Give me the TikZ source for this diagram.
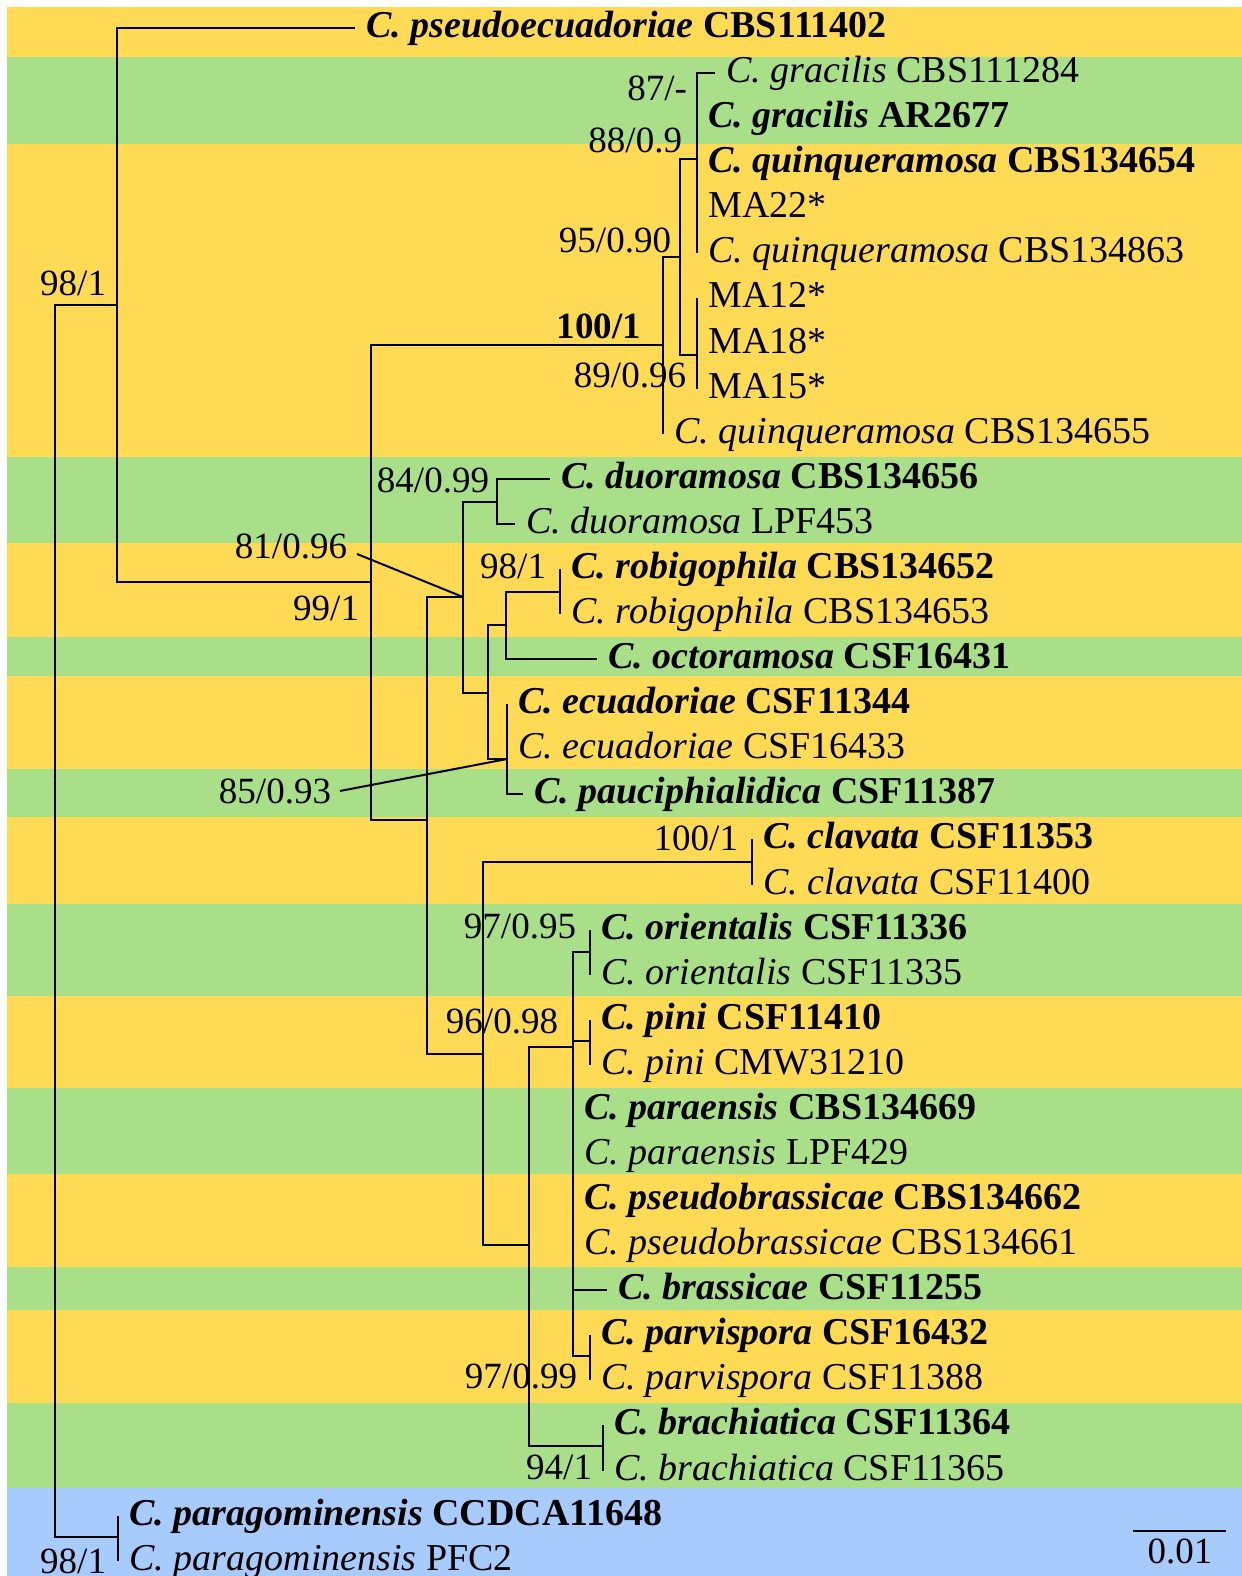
\documentclass[tikz,border=0pt]{standalone}
\usepackage{fontspec}
\setmainfont{Liberation Serif}

\definecolor{bandyellow}{RGB}{255,218,85}
\definecolor{bandgreen}{RGB}{169,223,137}
\definecolor{bandblue}{RGB}{168,203,254}

% isolate names: plain and type strain (bold)
\newcommand{\isol}[2]{\textit{#1} #2}
\newcommand{\typestr}[2]{\textbf{\textit{#1} #2}}

\begin{document}
\begin{tikzpicture}[x=0.5pt,y=-0.5pt,line width=1pt,
  font=\fontsize{18.5}{20}\selectfont,
  leaf/.style={anchor=base west,inner sep=0pt,xshift=5.25pt,yshift=-4.75pt,
    font=\fontsize{19}{21}\selectfont},
  supp/.style={anchor=base east,inner sep=0pt}]

\useasboundingbox (0,0) rectangle (1242,1576);

 % bandes de couleur derriere les clades
 \foreach \ya/\yb/\col in {7/57/bandyellow, 57/144/bandgreen, 144/457/bandyellow,
   457/543/bandgreen, 543/637/bandyellow, 637/676/bandgreen, 676/769/bandyellow,
   769/817/bandgreen, 817/904/bandyellow, 904/996/bandgreen, 996/1088/bandyellow,
   1088/1174/bandgreen, 1174/1267/bandyellow, 1267/1310/bandgreen,
   1310/1403/bandyellow, 1403/1488/bandgreen, 1488/1576/bandblue}
   \fill[\col] (7,\ya) rectangle (1242,\yb);

 % feuilles : extremite de branche + nom
 \foreach \n/\tx/\lab in {
   1/355/{\typestr{C. pseudoecuadoriae}{CBS111402}},
   2/715/{\isol{C. gracilis}{CBS111284}},
   3/697/{\typestr{C. gracilis}{AR2677}},
   4/697/{\typestr{C. quinqueramosa}{CBS134654}},
   5/697/{MA22*},
   6/697/{\isol{C. quinqueramosa}{CBS134863}},
   7/697/{MA12*},
   8/697/{MA18*},
   9/697/{MA15*},
   10/663/{\isol{C. quinqueramosa}{CBS134655}},
   11/550/{\typestr{C. duoramosa}{CBS134656}},
   12/515/{\isol{C. duoramosa}{LPF453}},
   13/560/{\typestr{C. robigophila}{CBS134652}},
   14/560/{\isol{C. robigophila}{CBS134653}},
   15/597/{\typestr{C. octoramosa}{CSF16431}},
   16/507/{\typestr{C. ecuadoriae}{CSF11344}},
   17/507/{\isol{C. ecuadoriae}{CSF16433}},
   18/523/{\typestr{C. pauciphialidica}{CSF11387}},
   19/752/{\typestr{C. clavata}{CSF11353}},
   20/752/{\isol{C. clavata}{CSF11400}},
   21/590/{\typestr{C. orientalis}{CSF11336}},
   22/590/{\isol{C. orientalis}{CSF11335}},
   23/590/{\typestr{C. pini}{CSF11410}},
   24/590/{\isol{C. pini}{CMW31210}},
   25/573/{\typestr{C. paraensis}{CBS134669}},
   26/573/{\isol{C. paraensis}{LPF429}},
   27/573/{\typestr{C. pseudobrassicae}{CBS134662}},
   28/573/{\isol{C. pseudobrassicae}{CBS134661}},
   29/607/{\typestr{C. brassicae}{CSF11255}},
   30/590/{\typestr{C. parvispora}{CSF16432}},
   31/590/{\isol{C. parvispora}{CSF11388}},
   32/603/{\typestr{C. brachiatica}{CSF11364}},
   33/603/{\isol{C. brachiatica}{CSF11365}},
   34/118/{\typestr{C. paragominensis}{CCDCA11648}},
   35/118/{\isol{C. paragominensis}{PFC2}}}
 {
   \coordinate (t\n) at (\tx,{28+45.08*(\n-1)});
   \node[leaf] (l\n) at (t\n) {\lab};
 }

 % noeuds internes
 \coordinate (root) at (55,921);
 \coordinate (ingroup) at (117,305);
 \coordinate (parag) at (118,1537);
 \coordinate (cladeB) at (371,582);
 \coordinate (quinq) at (663,345);
 \coordinate (quinqA) at (680,257);
 \coordinate (gracilis) at (697,159);
 \coordinate (maclade) at (697,355);
 \coordinate (cladeC) at (427,820);
 \coordinate (cladeD) at (463,597);
 \coordinate (duor) at (497,502);
 \coordinate (cladeG) at (488,693);
 \coordinate (cladeH) at (506,625);
 \coordinate (robig) at (560,592);
 \coordinate (ecuad) at (507,759);
 \coordinate (cladeE) at (483,1054);
 \coordinate (clav) at (752,862);
 \coordinate (cladeL) at (529,1245);
 \coordinate (polyM) at (573,1047);
 \coordinate (orient) at (590,952);
 \coordinate (pini) at (590,1041);
 \coordinate (parv) at (590,1356);
 \coordinate (brach) at (603,1446);

 % branches en equerre
 \foreach \p/\c in {root/ingroup, root/parag, parag/t34, parag/t35,
   ingroup/t1, ingroup/cladeB, cladeB/quinq, cladeB/cladeC,
   quinq/quinqA, quinq/t10, quinqA/gracilis, quinqA/maclade,
   gracilis/t2, gracilis/t3, gracilis/t4, gracilis/t5, gracilis/t6,
   maclade/t7, maclade/t8, maclade/t9,
   cladeC/cladeD, cladeC/cladeE, cladeD/duor, cladeD/cladeG,
   duor/t11, duor/t12, cladeG/cladeH, cladeG/ecuad,
   cladeH/robig, cladeH/t15, robig/t13, robig/t14,
   ecuad/t16, ecuad/t17, ecuad/t18,
   cladeE/clav, cladeE/cladeL, clav/t19, clav/t20,
   cladeL/polyM, cladeL/brach, polyM/orient, polyM/pini, polyM/parv,
   polyM/t25, polyM/t26, polyM/t27, polyM/t28, polyM/t29,
   orient/t21, orient/t22, pini/t23, pini/t24,
   parv/t30, parv/t31, brach/t32, brach/t33}
   \draw (\p) |- (\c);

 % valeurs de support
 \node[supp] at (107,295) {98/1};
 \node[supp] at (688,100) {87/-};
 \node[supp] at (683,152) {88/0.9};
 \node[supp] at (672,252) {95/0.90};
 \node[supp] at (642,338) {\bfseries 100/1};
 \node[supp] at (687,387) {89/0.96};
 \node[supp] at (490,492) {84/0.99};
 \node[supp] at (547,578) {98/1};
 \node[supp] (s81) at (348,558) {81/0.96};
 \node[supp] at (360,620) {99/1};
 \node[supp] (s85) at (332,803) {85/0.93};
 \node[supp] at (739,850) {100/1};
 \node[supp] at (577,938) {97/0.95};
 \node[supp] at (559,1033) {96/0.98};
 \node[supp] at (578,1388) {97/0.99};
 \node[supp] at (593,1479) {94/1};
 \node[supp] at (107,1573) {98/1};

 \draw ([shift={(4.5pt,-4pt)}]s81.east) -- (cladeD);
 \draw ([xshift=4pt]s85.east) -- (ecuad);

 % echelle
 \coordinate (sbA) at (1133,1531);
 \coordinate (sbB) at (1226,1531);
 \draw (sbA) -- (sbB);
 \node[anchor=base,inner sep=0pt] (sbl) at (1180,1563) {0.01};
\end{tikzpicture}
\end{document}
